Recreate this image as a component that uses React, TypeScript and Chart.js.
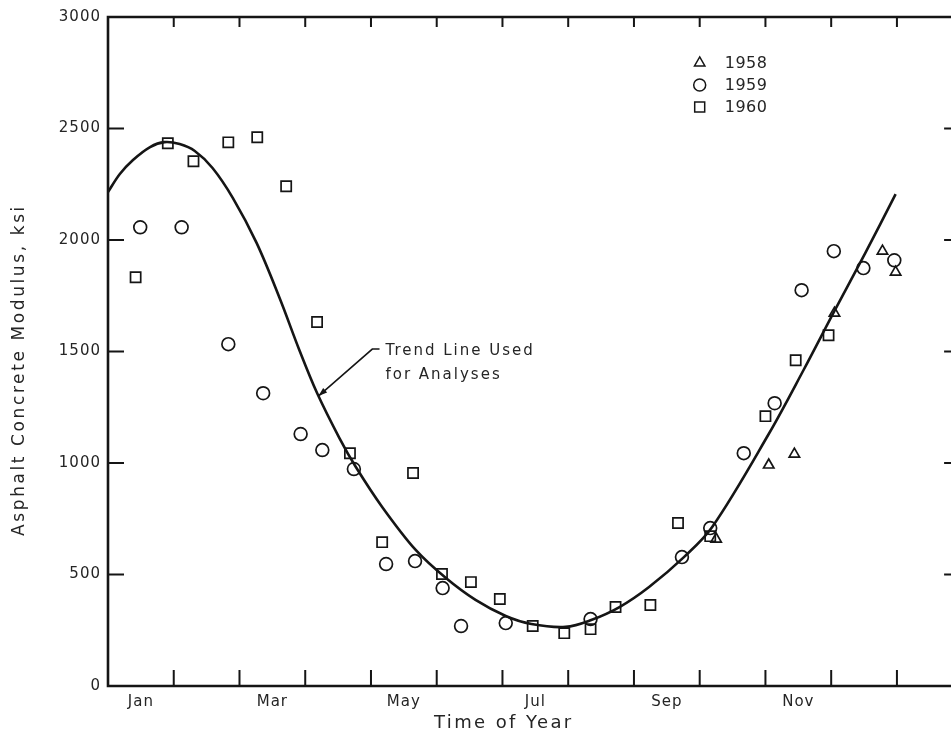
import React, { useEffect, useRef } from 'react';
import { Chart, registerables } from 'chart.js';

Chart.register(...registerables);

// ---- axis labels ----
const monthLabels = ['Jan', 'Mar', 'May', 'Jul', 'Sep', 'Nov'];
const monthLabelPos = [0.5, 2.5, 4.5, 6.5, 8.5, 10.5];
const monthBoundaries = [1, 2, 3, 4, 5, 6, 7, 8, 9, 10, 11, 12];
const yTickValues = [0, 500, 1000, 1500, 2000, 2500, 3000];
const yTickMarks = [500, 1000, 1500, 2000, 2500];

// ---- trend line ----
const trendMonth = [0, 0.18, 0.38, 0.64, 0.86, 1.09, 1.32, 1.59, 1.9, 2.26, 2.61, 2.91, 3.18, 3.52, 3.77, 4.17, 4.68, 5.14, 5.59, 6.05, 6.44, 6.96, 7.35, 7.78, 8.23, 8.76, 9.19, 10.05, 10.58, 11.05, 11.52, 11.98];
const trendValue = [2215, 2296, 2359, 2417, 2439, 2430, 2399, 2323, 2188, 1987, 1740, 1507, 1314, 1112, 982, 803, 610, 484, 386, 314, 278, 265, 296, 354, 444, 578, 713, 1130, 1417, 1682, 1942, 2206];

// ---- 1958 (triangles) ----
const month1958 = [9.25, 10.05, 10.44, 11.05, 11.78, 11.98];
const value1958 = [659, 991, 1040, 1672, 1950, 1856];

// ---- 1959 (circles) ----
const month1959 = [0.49, 1.12, 1.83, 2.36, 2.93, 3.26, 3.74, 4.23, 4.67, 5.09, 5.37, 6.05, 7.34, 8.73, 9.16, 9.67, 10.14, 10.55, 11.04, 11.49, 11.96];
const value1959 = [2057, 2057, 1533, 1313, 1130, 1058, 973, 547, 560, 439, 269, 282, 300, 578, 708, 1044, 1268, 1775, 1950, 1874, 1909];

// ---- 1960 (squares) ----
const month1960 = [0.42, 0.91, 1.3, 1.83, 2.27, 2.71, 3.18, 3.68, 4.17, 4.64, 5.08, 5.52, 5.96, 6.46, 6.94, 7.34, 7.72, 8.25, 8.67, 9.16, 10.0, 10.46, 10.96];
const value1960 = [1833, 2434, 2353, 2438, 2461, 2241, 1632, 1044, 645, 955, 502, 466, 390, 269, 237, 255, 354, 363, 731, 672, 1210, 1461, 1573];

// ---- annotation / legend / titles ----
const legendYears = ['1958', '1959', '1960'];
const legendShapes = ['triangle', 'circle', 'rect'];
const annotationLines = ['Trend Line Used', 'for Analyses'];
const xTitle = 'Time of Year';
const yTitle = 'Asphalt Concrete Modulus, ksi';

const INK = '#151515';
const TEXT = '#252525';
const FONT = '"DejaVu Sans", "Liberation Sans", sans-serif';

const toPts = (xs: number[], ys: number[]) => xs.map((x, i) => ({ x, y: ys[i] }));

function drawShape(ctx: CanvasRenderingContext2D, shape: string, x: number, y: number) {
  ctx.beginPath();
  if (shape === 'circle') {
    ctx.arc(x, y, 6, 0, Math.PI * 2);
  } else if (shape === 'rect') {
    ctx.rect(x - 5, y - 5, 10, 10);
  } else {
    ctx.moveTo(x, y - 6);
    ctx.lineTo(x + 5.2, y + 3);
    ctx.lineTo(x - 5.2, y + 3);
    ctx.closePath();
  }
  ctx.stroke();
}

const framePlugin = {
  id: 'framePlugin',
  beforeDraw(chart: any) {
    chart.ctx.letterSpacing = '1px';
  },
  afterDraw(chart: any) {
    const { ctx, chartArea } = chart;
    const xs = chart.scales.x;
    const ys = chart.scales.y;
    const { left, right, top, bottom } = chartArea;
    ctx.save();
    ctx.strokeStyle = INK;
    ctx.lineCap = 'butt';
    // frame
    ctx.lineWidth = 2.6;
    ctx.beginPath();
    ctx.moveTo(left, top);
    ctx.lineTo(left, bottom);
    ctx.lineTo(right, bottom);
    ctx.lineTo(right, top);
    ctx.closePath();
    ctx.stroke();
    // inner ticks
    ctx.lineWidth = 2;
    ctx.beginPath();
    for (const m of monthBoundaries) {
      const px = xs.getPixelForValue(m);
      ctx.moveTo(px, bottom);
      ctx.lineTo(px, bottom - 16);
      ctx.moveTo(px, top);
      ctx.lineTo(px, top + 10);
    }
    for (const v of yTickMarks) {
      const py = ys.getPixelForValue(v);
      ctx.moveTo(left, py);
      ctx.lineTo(left + 16, py);
      ctx.moveTo(right, py);
      ctx.lineTo(right - 12, py);
    }
    ctx.stroke();

    // annotation leader with arrow
    const tipX = xs.getPixelForValue(3.2), tipY = ys.getPixelForValue(1300);
    const kneeX = xs.getPixelForValue(4.02), kneeY = ys.getPixelForValue(1511);
    const endX = xs.getPixelForValue(4.13);
    ctx.lineWidth = 1.6;
    ctx.beginPath();
    ctx.moveTo(endX, kneeY);
    ctx.lineTo(kneeX, kneeY);
    ctx.lineTo(tipX, tipY);
    ctx.stroke();
    const ang = Math.atan2(tipY - kneeY, tipX - kneeX);
    ctx.fillStyle = INK;
    ctx.beginPath();
    ctx.moveTo(tipX, tipY);
    ctx.lineTo(tipX - 9 * Math.cos(ang) + 3 * Math.sin(ang), tipY - 9 * Math.sin(ang) - 3 * Math.cos(ang));
    ctx.lineTo(tipX - 9 * Math.cos(ang) - 3 * Math.sin(ang), tipY - 9 * Math.sin(ang) + 3 * Math.cos(ang));
    ctx.closePath();
    ctx.fill();

    ctx.fillStyle = TEXT;
    ctx.textBaseline = 'middle';
    ctx.textAlign = 'left';
    ctx.font = `15px ${FONT}`;
    ctx.letterSpacing = '2px';
    const annX = xs.getPixelForValue(4.22);
    ctx.fillText(annotationLines[0], annX, ys.getPixelForValue(1500));
    ctx.fillText(annotationLines[1], annX, ys.getPixelForValue(1395));

    // legend
    ctx.font = `16px ${FONT}`;
    ctx.letterSpacing = '0.5px';
    ctx.lineWidth = 1.5;
    const legX = xs.getPixelForValue(9.0);
    const legVals = [2794, 2695, 2596];
    legendYears.forEach((yr, i) => {
      const py = ys.getPixelForValue(legVals[i]);
      drawShape(ctx, legendShapes[i], legX, py);
      ctx.fillText(yr, legX + 25, py + 1);
    });

    // axis titles
    ctx.letterSpacing = '2.4px';
    ctx.font = `18px ${FONT}`;
    ctx.textAlign = 'center';
    ctx.fillText(xTitle, xs.getPixelForValue(6.02), xs.bottom - 10);

    ctx.letterSpacing = '2.6px';
    ctx.font = `17px ${FONT}`;
    ctx.translate(ys.left + 20, ys.getPixelForValue(1417));
    ctx.rotate(-Math.PI / 2);
    ctx.fillText(yTitle, 0, 0);
    ctx.restore();
  },
};

export default function App() {
  const canvasRef = useRef<HTMLCanvasElement | null>(null);

  useEffect(() => {
    const el = canvasRef.current;
    if (!el) return;
    const pointBase = {
      showLine: false,
      borderColor: INK,
      backgroundColor: 'rgba(0,0,0,0)',
      borderWidth: 1.7,
    };
    const chart = new Chart(el, {
      type: 'scatter',
      data: {
        datasets: [
          {
            label: 'Trend Line Used for Analyses',
            data: toPts(trendMonth, trendValue),
            showLine: true,
            borderColor: INK,
            borderWidth: 2.6,
            pointRadius: 0,
            tension: 0.35,
            fill: false,
          } as any,
          { ...pointBase, label: '1958', data: toPts(month1958, value1958), pointStyle: 'triangle', pointRadius: 6 },
          { ...pointBase, label: '1959', data: toPts(month1959, value1959), pointStyle: 'circle', pointRadius: 6.4 },
          { ...pointBase, label: '1960', data: toPts(month1960, value1960), pointStyle: 'rect', pointRadius: 7.2 },
        ],
      },
      options: {
        responsive: false,
        devicePixelRatio: 1,
        animation: false,
        layout: { padding: { top: 17, right: 6, left: 0, bottom: 0 } },
        plugins: { legend: { display: false }, tooltip: { enabled: false } },
        scales: {
          x: {
            type: 'linear',
            min: 0,
            max: 12.9,
            afterFit: (s: any) => { s.height = 47; },
            afterBuildTicks: (s: any) => { s.ticks = monthLabelPos.map((v) => ({ value: v })); },
            ticks: {
              autoSkip: false,
              maxRotation: 0,
              padding: 7,
              color: TEXT,
              font: { family: FONT, size: 15 },
              callback: (v: any) => {
                const i = monthLabelPos.indexOf(Number(v));
                return i >= 0 ? monthLabels[i] : '';
              },
            },
            grid: { display: false, drawTicks: false },
            border: { display: false },
          },
          y: {
            min: 0,
            max: 3000,
            afterFit: (s: any) => { s.width = 108; },
            afterBuildTicks: (s: any) => { s.ticks = yTickValues.map((v) => ({ value: v })); },
            ticks: {
              padding: 7,
              color: TEXT,
              font: { family: FONT, size: 15 },
              callback: (v: any) => String(v),
            },
            grid: { display: false, drawTicks: false },
            border: { display: false },
          },
        },
      } as any,
      plugins: [framePlugin],
    });
    return () => chart.destroy();
  }, []);

  return (
    <div style={{ position: 'fixed', left: 0, top: 0, width: 951, height: 733, overflow: 'hidden', background: '#fff' }}>
      <canvas ref={canvasRef} width={965} height={733} style={{ display: 'block', width: 965, height: 733 }} />
    </div>
  );
}
